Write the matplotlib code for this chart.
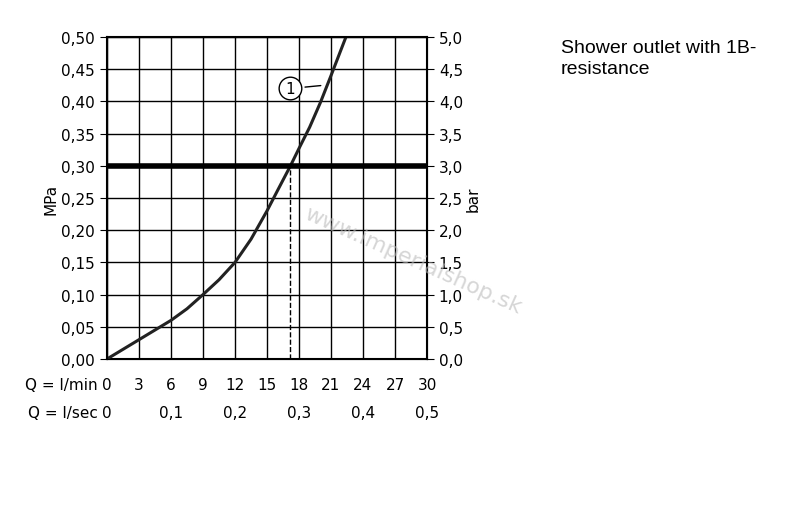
import matplotlib
matplotlib.use("Agg")
import matplotlib.pyplot as plt
import numpy as np

# curve: flow (l/min) vs pressure (MPa)
flow_lmin = [0, 1.5, 3, 4.5, 6, 7.5, 9, 10.5, 12, 13.5, 15, 16, 17.2, 18, 19, 20, 21, 22.4]
press_mpa = [0, 0.015, 0.03, 0.045, 0.06, 0.078, 0.10, 0.123, 0.15, 0.186, 0.23, 0.262,
             0.30, 0.327, 0.36, 0.398, 0.44, 0.50]
lmin_ticks = [0, 3, 6, 9, 12, 15, 18, 21, 24, 27, 30]
lsec_labels = ["0", "0,1", "0,2", "0,3", "0,4", "0,5"]
mpa_ticks = np.arange(0, 0.501, 0.05)
op_pressure = 0.30
op_flow = 17.2

fig = plt.figure(figsize=(8, 5.1), dpi=100)
ax = fig.add_axes([107/800, 1 - 360/510, 320/800, 322/510])
ax.set_xlim(0, 30)
ax.set_ylim(0, 0.5)
ax.set_xticks(lmin_ticks)
ax.set_yticks(mpa_ticks)
ax.grid(True, color="black", linewidth=1.0)
for s in ax.spines.values():
    s.set_linewidth(1.5)
ax.tick_params(axis="x", length=0, labelbottom=False)
ax.tick_params(axis="y", direction="out", length=5, labelsize=11)
ax.set_yticklabels([f"{v:.2f}".replace(".", ",") for v in mpa_ticks])
ax.set_ylabel("MPa", fontsize=11, labelpad=2)

ax2 = ax.twinx()
ax2.set_ylim(0, 5)
ax2.set_yticks(np.arange(0, 5.01, 0.5))
ax2.set_yticklabels([f"{v:.1f}".replace(".", ",") for v in np.arange(0, 5.01, 0.5)])
ax2.tick_params(axis="y", direction="out", length=5, labelsize=11)
ax2.set_ylabel("bar", fontsize=11, labelpad=2)

ax.plot(flow_lmin, press_mpa, color="#222222", linewidth=2.2, zorder=3)
ax.axhline(op_pressure, color="black", linewidth=4, zorder=4)
ax.plot([op_flow, op_flow], [0, op_pressure], color="black", linestyle="--", linewidth=1, zorder=3)
ax.annotate("1", xy=(20.3, 0.425), xytext=(17.2, 0.42), fontsize=11, ha="center", va="center",
            bbox=dict(boxstyle="circle,pad=0.25", fc="white", ec="black", lw=1),
            arrowprops=dict(arrowstyle="-", color="black", lw=1), zorder=5)

fig.text(305/800, 1 - 213/510, "www.imperialshop.sk", rotation=-24, rotation_mode="anchor",
         fontsize=16, color="#bbbbbb", alpha=0.6, ha="left", va="center", zorder=6)

# flow rows below the chart
for t in lmin_ticks:
    ax.text(t, -0.04, str(t), ha="center", va="center", fontsize=11)
for i, lab in enumerate(lsec_labels):
    ax.text(i * 6, -0.083, lab, ha="center", va="center", fontsize=11)
ax.text(-0.9, -0.04, "Q = l/min", ha="right", va="center", fontsize=11)
ax.text(-0.9, -0.083, "Q = l/sec", ha="right", va="center", fontsize=11)

fig.text(561/800, 1 - 59/510, "Shower outlet with 1B-\nresistance", fontsize=14,
         family="Liberation Sans", va="center", ha="left", linespacing=1.35)

fig.savefig("out.png", dpi=100)
